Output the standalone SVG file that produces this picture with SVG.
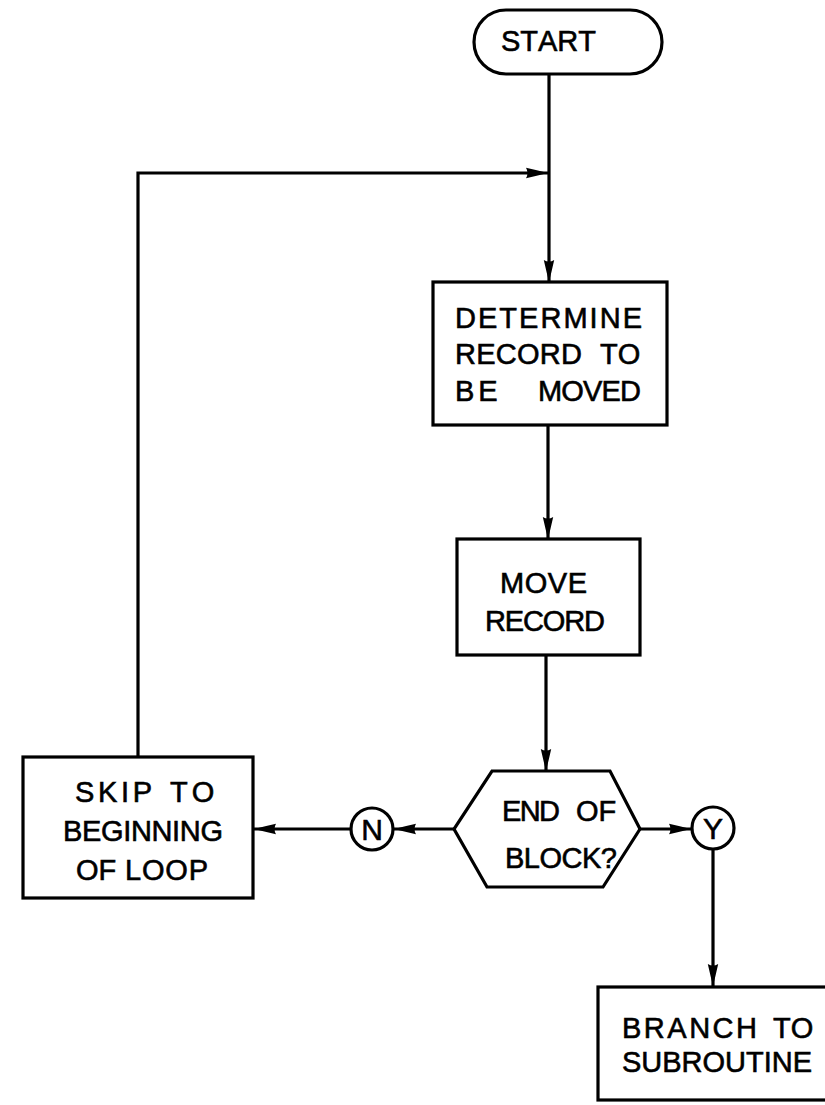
<svg xmlns="http://www.w3.org/2000/svg" width="825" height="1105" viewBox="0 0 825 1105">
<style>
.shape{fill:#fff;stroke:#000;stroke-width:3.2;stroke-linejoin:miter}
.line{fill:none;stroke:#000;stroke-width:3.2}
text{font-family:"Liberation Sans",Arial,sans-serif;font-size:29px;fill:#000;stroke:#000;stroke-width:0.6;font-kerning:none}
.c{text-anchor:middle}
.lt{font-size:30px}
.w{letter-spacing:4px}
</style>
<defs>
<marker id="ah" viewBox="0 0 22 12" refX="22" refY="6" markerWidth="22" markerHeight="12" markerUnits="userSpaceOnUse" orient="auto">
<path d="M0,0.8 Q12,3.5 22,6 Q12,8.5 0,11.2 Q3,6 0,0.8 Z" fill="#000"/>
</marker>
</defs>
<rect width="825" height="1105" fill="#fff"/>
<g id="connectors">
<line class="line" x1="549" y1="74" x2="549" y2="282" marker-end="url(#ah)"/>
<polyline class="line" points="138,757 138,173 548,173" marker-end="url(#ah)"/>
<line class="line" x1="548" y1="425" x2="548" y2="539" marker-end="url(#ah)"/>
<line class="line" x1="546" y1="655" x2="546" y2="771" marker-end="url(#ah)"/>
<line class="line" x1="454" y1="829" x2="394" y2="829" marker-end="url(#ah)"/>
<line class="line" x1="350" y1="829" x2="254" y2="829" marker-end="url(#ah)"/>
<line class="line" x1="640" y1="829" x2="691" y2="829" marker-end="url(#ah)"/>
<line class="line" x1="713" y1="849" x2="713" y2="986" marker-end="url(#ah)"/>
</g>
<g id="start">
<rect class="shape" x="474" y="10" width="188" height="64" rx="32" ry="32"/>
<text x="501" y="51" textLength="95" lengthAdjust="spacing">START</text>
</g>
<g id="determine">
<rect class="shape" x="433" y="282" width="234" height="143"/>
<text x="455" y="328" textLength="187" lengthAdjust="spacing">DETERMINE</text>
<text x="455" y="364" textLength="127" lengthAdjust="spacing">RECORD</text>
<text x="600" y="364">TO</text>
<text class="w" x="455" y="401">BE</text>
<text x="538" y="401" textLength="103" lengthAdjust="spacing">MOVED</text>
</g>
<g id="move">
<rect class="shape" x="457" y="539" width="183" height="116"/>
<text x="500" y="593" textLength="87" lengthAdjust="spacing">MOVE</text>
<text x="485" y="631" textLength="120" lengthAdjust="spacing">RECORD</text>
</g>
<g id="decision">
<polygon class="shape" points="492,771 610,771 640,829 603,887 487,887 454,829"/>
<text x="502" y="821" textLength="58" lengthAdjust="spacing">END</text>
<text x="576" y="821">OF</text>
<text x="505" y="868" textLength="112" lengthAdjust="spacing">BLOCK?</text>
</g>
<g id="no">
<circle class="shape" cx="372" cy="829" r="21"/>
<text class="c lt" x="372" y="840">N</text>
</g>
<g id="yes">
<circle class="shape" cx="713" cy="828" r="21"/>
<text class="c lt" x="713" y="839">Y</text>
</g>
<g id="skip">
<rect class="shape" x="23" y="757" width="230" height="141"/>
<text x="75" y="802" textLength="77" lengthAdjust="spacing">SKIP</text>
<text class="w" x="170" y="802">TO</text>
<text x="63" y="841" textLength="160" lengthAdjust="spacing">BEGINNING</text>
<text x="76" y="880">OF</text>
<text x="125" y="880" textLength="83" lengthAdjust="spacing">LOOP</text>
</g>
<g id="branch">
<rect class="shape" x="598" y="987" width="240" height="113"/>
<text x="622" y="1038" textLength="135" lengthAdjust="spacing">BRANCH</text>
<text x="773" y="1038">TO</text>
<text x="622" y="1072" textLength="190" lengthAdjust="spacing">SUBROUTINE</text>
</g>
</svg>
